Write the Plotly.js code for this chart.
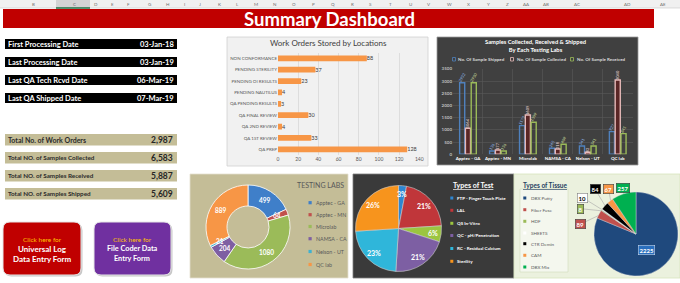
<!DOCTYPE html>
<html><head><meta charset="utf-8">
<script src="https://cdn.plot.ly/plotly-3.0.1.min.js"></script>
<style>html,body{margin:0;padding:0;background:#fff;}#chart{width:680px;height:283px;}</style>
</head><body><div id="chart"></div>
<script>
// ---------- DATA ----------
const columnLetters=['B','C','D','E','F','G','H','I','J','K','L','M','N','O','P','Q','R','S','T','U','V','W','X','Y','Z','AA','AB','AC','AD','AE'];
const dashboardTitle='Summary Dashboard';
const infoLabels=['First Processing Date','Last Processing Date','Last QA Tech Rcvd Date','Last QA Shipped Date'];
const infoValues=['03-Jan-18','03-Jan-19','06-Mar-19','07-Mar-19'];
const totalLabels=['Total No. of Work Orders','Total NO. of Samples Collected','Total NO. of Samples Received','Total NO. of Samples Shipped'];
const totalValues=[2987,6583,5887,5609];

const locations=['NON CONFORMANCE','PENDING STERILITY','PENDING OI RESULTS','PENDING NAUTILUS','QA PENDING RESULTS','QA FINAL REVIEW','QA 2ND REVIEW','QA 1ST REVIEW','QA PREP'];
const locationCounts=[88,37,23,4,3,30,4,33,128];

const labs=['Apptec - GA','Apptec - MN','Microlab','NAMSA - CA','Nelson - UT','QC lab'];
const seriesNames=['No. Of Sample Shipped','No. Of Sample Collected','No. Of Sample Received'];
const samplesShipped=[2932,136,1173,245,341,927];
const samplesCollected=[1064,177,1609,218,82,3040];
const samplesReceived=[2930,136,1309,409,341,845];

const labWorkOrders=[499,64,1080,204,21,889];

const testTypes=['FTP - Finger Touch Plate','LAL','QS In-Vitro','QC - pH/Penetration','RC - Residual Calcium','Sterility'];
const testShares=[3,21,6,21,23,26];

const tissueTypes=['DBX Putty','Fiber Fuse','HDF','SHEETS','CTR Demin','CAM','DBX Mix'];
const tissueCounts=[2225,89,8,10,84,67,257];

// ---------- LAYOUT HELPERS ----------
const W=680,H=283;
const X=p=>p/W, Y=p=>1-p/H;
const F='Lato, "Open Sans", sans-serif';
const shapes=[], annotations=[];
function rect(x0,y0,x1,y1,fill,line,lw,layer){
  shapes.push({type:'rect',xref:'paper',yref:'paper',x0:X(x0),x1:X(x1),y0:Y(y1),y1:Y(y0),
    fillcolor:fill,line:{color:line||fill,width:line?(lw||1):0},layer:layer||'below'});
}
function seg(x0,y0,x1,y1,color,w,layer){
  shapes.push({type:'line',xref:'paper',yref:'paper',x0:X(x0),x1:X(x1),y0:Y(y0),y1:Y(y1),
    line:{color:color,width:w},layer:layer||'below'});
}
function rrect(x0,y0,x1,y1,r,fill,line,lw){
  const p=(x,y)=>X(x)+','+Y(y);
  const d='M'+p(x0+r,y0)+' L'+p(x1-r,y0)+' Q'+p(x1,y0)+' '+p(x1,y0+r)+' L'+p(x1,y1-r)+' Q'+p(x1,y1)+' '+p(x1-r,y1)+
    ' L'+p(x0+r,y1)+' Q'+p(x0,y1)+' '+p(x0,y1-r)+' L'+p(x0,y0+r)+' Q'+p(x0,y0)+' '+p(x0+r,y0)+' Z';
  shapes.push({type:'path',xref:'paper',yref:'paper',path:d,fillcolor:fill,line:{color:line||fill,width:line?(lw||1):0},layer:'below'});
}
function ann(x,y,text,size,color,xa,extra){
  annotations.push(Object.assign({xref:'paper',yref:'paper',x:X(x),y:Y(y),text:text,showarrow:false,
    xanchor:xa||'center',yanchor:'middle',font:{family:F,size:size,color:color}},extra||{}));
}
function pieGeom(values,cx,cy,R,rf){
  const tot=values.reduce((a,b)=>a+b,0); let cum=0;
  return values.map(v=>{const a=(cum+v/2)/tot*2*Math.PI; cum+=v;
    return {x:cx+R*rf*Math.sin(a),y:cy-R*rf*Math.cos(a)};});
}

// ---------- SPREADSHEET FRAME ----------
const letterX=[33,74,96,112,128,150,168,184,200,219,238,256,275,294,313,333,352,371,390,410,429,449,468,488,507,526,546,577,627,663];
rect(0,0,680,8,'#f0f0f0');
rect(56,0,90,8,'#d4d4d4');
seg(0,8,680,8,'#c8c8c8',0.6);
seg(56,8,90,8,'#217346',1.5);
columnLetters.forEach((l,i)=>ann(letterX[i],4.2,l,4.5,'#707070'));

rect(3,9,654,28,'#c00000');
ann(329,18.5,'<b>'+dashboardTitle+'</b>',18.5,'#ffffff');

// info rows
const infoY=[39,57,75,93];
infoLabels.forEach((l,i)=>{
  rect(5,infoY[i],177,infoY[i]+10,'#000000');
  ann(6,infoY[i]+5,'<b>'+l+'</b>',7.5,'#ffffff','left');
  ann(176,infoY[i]+5,'<b>'+infoValues[i]+'</b>',7.5,'#ffffff','right');
});
// totals
const totY=[134,152,170,188];
totalLabels.forEach((l,i)=>{
  rect(5,totY[i],177,totY[i]+11.5,'#c4bd97');
  ann(6,totY[i]+5.8,'<b>'+l+'</b>',i===0?7:6.3,'#2b2b2b','left');
  ann(175,totY[i]+5.8,'<b>'+totalValues[i].toLocaleString('en-US')+'</b>',8.5,'#262626','right');
});
// buttons
rrect(4.5,223.5,82.5,276.5,7,'rgba(0,0,0,0.22)');
rrect(3,222,81,275,7,'#c00000','#e6e6e6',1);
ann(42,239,'Click here for',6.5,'#ffc000');
ann(42,248.5,'<b>Universal Log</b>',8,'#ffffff');
ann(42,258.5,'<b>Data Entry Form</b>',8,'#ffffff');
rrect(95.5,223.5,172.5,276.5,7,'rgba(0,0,0,0.22)');
rrect(94,222,171,275,7,'#7030a0','#e6e6e6',1);
ann(132,239,'Click here for',6.5,'#ffc000');
ann(132,248.5,'<b>File Coder Data</b>',7.3,'#ffffff');
ann(132,258.5,'<b>Entry Form</b>',7.3,'#ffffff');

// ---------- PANELS ----------
rect(227,37,428,166,'#f1f1f1','#d0d0d0',0.8);
ann(328,43,'Work Orders Stored by Locations',8,'#404040');

rect(437,37,638,165,'#404040','#9a9a9a',0.8);
ann(535,45.5,'<b>Samples Collected, Received &amp; Shipped<br>By Each Testing Labs</b>',5.8,'#ffffff');

rect(190,174,348,278,'#c4bd97','#e4e0cf',0.8);
rect(353,174,514,278,'#3a3a3a','#7f7f7f',0.8);
rect(514,174,680,278,'#ebf1de','#d7e4bd',0.8);
rect(520,189,568,272,'#f4f7ee','#cbd7b0',0.5);

// ---------- BAR CHART 1 ----------
const traces=[];
traces.push({type:'bar',orientation:'h',x:locationCounts,y:locations,xaxis:'x',yaxis:'y',
  marker:{color:'#f79646'},text:locationCounts.map(String),textposition:'outside',constraintext:'none',
  textfont:{family:F,size:5.5,color:'#404040'},cliponaxis:false,hoverinfo:'none',showlegend:false});

// ---------- GROUPED BAR CHART ----------
const grp=[
  {y:samplesShipped,line:'#4f81bd',fill:'rgba(0,0,0,0)',ang:-60,tc:'#8db3e2'},
  {y:samplesCollected,line:'#e6b9b8',fill:'#5a2626',ang:-90,tc:'#f2dcdb'},
  {y:samplesReceived,line:'#9bbb59',fill:'rgba(0,0,0,0)',ang:-60,tc:'#c3d69b'}];
grp.forEach((g,i)=>{
  traces.push({type:'bar',x:labs,y:g.y,name:seriesNames[i],xaxis:'x2',yaxis:'y2',
    marker:{color:g.fill,line:{color:g.line,width:1.4}},text:g.y.map(String),textposition:'outside',
    textangle:g.ang,constraintext:'none',textfont:{family:F,size:4,color:g.tc},cliponaxis:false,
    hoverinfo:'none',showlegend:false});
});
const legX=[454,512,572];
seriesNames.forEach((n,i)=>{
  rect(legX[i]-1.5,57.5,legX[i]+1.5,61,'#404040',grp[i].line,0.8,'above');
  ann(legX[i]+2.5,59.3,'<b>'+n+'</b>',4.5,'#d9d9d9','left');
});

// ---------- DONUT ----------
const labColors=['#3f7fc9','#c0504d','#9bbb59','#7e5fa2','#3fb1d0','#f79646'];
traces.push({type:'pie',values:labWorkOrders,labels:labs,hole:0.5,sort:false,direction:'clockwise',rotation:0,
  domain:{x:[X(206),X(290)],y:[Y(269),Y(185)]},marker:{colors:labColors,line:{color:'#ffffff',width:0.8}},
  textinfo:'none',hoverinfo:'none',showlegend:false});
pieGeom(labWorkOrders,248,227,42,0.75).forEach((p,i)=>ann(p.x,p.y,'<b>'+labWorkOrders[i]+'</b>',6.5,'#ffffff'));
ann(320,185,'TESTING LABS',7,'#595959');
const donutLegY=[202.7,214.7,226.5,238.7,251.5,264.5];
labs.forEach((l,i)=>{
  rect(308.5,donutLegY[i]-1.6,311.7,donutLegY[i]+1.6,labColors[i],null,0,'above');
  ann(313.5,donutLegY[i],l,5.3,'#595959','left');
});

// ---------- TYPES OF TEST ----------
const testColors=['#2e86d1','#c0363a','#9bc540','#7d5fa3','#2fb6da','#f7941d'];
traces.push({type:'pie',values:testShares,labels:testTypes,sort:false,direction:'clockwise',rotation:0,
  domain:{x:[X(355.5),X(441.5)],y:[Y(271.5),Y(185.5)]},marker:{colors:testColors,line:{color:'#d0d0d0',width:0.6}},
  textinfo:'none',hoverinfo:'none',showlegend:false});
const testTot=testShares.reduce((a,b)=>a+b,0);
pieGeom(testShares,398.5,228.5,43,0.8).forEach((p,i)=>ann(p.x,p.y,'<b>'+Math.round(testShares[i]/testTot*100)+'%</b>',7,'#ffffff'));
ann(473,185,'<b><u>Types of Test</u></b>',7,'#ffffff');
const testLegY=[198,210.3,223.3,235.5,248.5,261.3];
testTypes.forEach((t,i)=>{
  rect(450.3,testLegY[i]-1.5,453.3,testLegY[i]+1.5,testColors[i],null,0,'above');
  ann(455,testLegY[i],'<b>'+t+'</b>',4.5,'#ffffff','left');
});

// ---------- TYPES OF TISSUE ----------
const tissueColors=['#1f497d','#c0504d','#9bbb59','#ffffff','#000000','#f79646','#00b050'];
shapes.push({type:'circle',xref:'paper',yref:'paper',x0:X(594.3),x1:X(677.7),y0:Y(275.7),y1:Y(192.3),
  fillcolor:tissueColors[0],line:{width:0},layer:'below'});
traces.push({type:'pie',values:tissueCounts,labels:tissueTypes,sort:false,direction:'clockwise',rotation:0,
  domain:{x:[X(594),X(678)],y:[Y(276),Y(192)]},marker:{colors:tissueColors,line:{color:'#e6e6e6',width:0.4}},
  textinfo:'none',hoverinfo:'none',showlegend:false});
ann(545,185,'<b><u>Types of Tissue</u></b>',6.5,'#244061');
const tissueLegY=[198,209.7,221.3,233,243.7,255.3,267];
tissueTypes.forEach((t,i)=>{
  rect(523.3,tissueLegY[i]-1.5,526.3,tissueLegY[i]+1.5,tissueColors[i],null,0,'below');
  ann(528.5,tissueLegY[i],t,4.6,'#595959','left');
});
const tissueLabelPos=[null,[580.7,224],[580.7,208.7],[582.8,197.7],[595,189],[608.7,189],[623.3,188.3]];
const edge=pieGeom(tissueCounts,636,234,42,0.97);
const inner=pieGeom(tissueCounts,636,234,42,0.45);
tissueCounts.forEach((v,i)=>{
  if(i===0){
    ann(inner[0].x,inner[0].y,'<b>'+v+'</b>',6,'#ffffff','center',{bgcolor:'#2a6fbe',bordercolor:'#dce6f2',borderwidth:0.5,borderpad:1});
    return;
  }
  const lp=tissueLabelPos[i];
  seg(lp[0],lp[1],edge[i].x,edge[i].y,'#a6a6a6',0.6,'below');
  const isWhite=tissueColors[i]==='#ffffff';
  ann(lp[0],lp[1],'<b>'+v+'</b>',6,isWhite?'#000000':'#ffffff','center',
    {bgcolor:tissueColors[i],bordercolor:isWhite?'#7f7f7f':'#404040',borderwidth:0.6,borderpad:1});
});

// ---------- LAYOUT ----------
const layout={
  width:W,height:H,margin:{l:0,r:0,t:0,b:0},paper_bgcolor:'#ffffff',plot_bgcolor:'rgba(0,0,0,0)',
  font:{family:F},showlegend:false,barmode:'group',bargap:0.42,bargroupgap:0.12,
  xaxis:{domain:[X(278),X(419.3)],anchor:'y',range:[0,140],dtick:20,tickfont:{family:F,size:5,color:'#595959'},
    gridcolor:'#d4d4d4',gridwidth:0.7,zeroline:false,showline:false,ticks:'',fixedrange:true},
  yaxis:{domain:[Y(155),Y(52.6)],anchor:'x',type:'category',autorange:'reversed',tickfont:{family:F,size:4.5,color:'#595959'},
    showgrid:false,zeroline:false,ticks:'',fixedrange:true},
  xaxis2:{domain:[X(453),X(632.7)],anchor:'y2',type:'category',tickson:'boundaries',showgrid:true,gridcolor:'#5a5a5a',gridwidth:0.6,
    tickangle:0,tickfont:{family:F,size:4.5,color:'#ffffff',weight:700},ticks:'',showline:false,zeroline:false,fixedrange:true},
  yaxis2:{domain:[Y(154.3),Y(68.8)],anchor:'x2',range:[0,3500],dtick:500,tickfont:{family:F,size:4.5,color:'#bfbfbf',weight:700},
    gridcolor:'#5a5a5a',gridwidth:0.6,zeroline:false,showline:false,ticks:'',fixedrange:true},
  shapes:shapes,annotations:annotations
};
Plotly.newPlot('chart',traces,layout,{displayModeBar:false,staticPlot:true});
</script>
</body></html>
